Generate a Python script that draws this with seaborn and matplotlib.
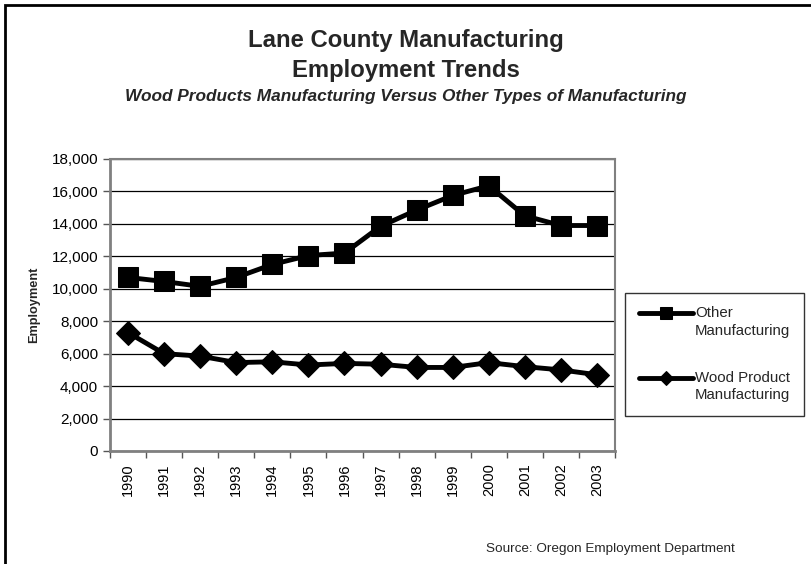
import matplotlib
matplotlib.use("Agg")
import matplotlib.pyplot as plt
import seaborn as sns
import pandas as pd
from matplotlib.patches import Rectangle
from matplotlib.ticker import FuncFormatter, FixedLocator
from matplotlib.legend_handler import HandlerLine2D

years = ["1990", "1991", "1992", "1993", "1994", "1995", "1996",
         "1997", "1998", "1999", "2000", "2001", "2002", "2003"]
other_mfg = [10700, 10450, 10150, 10700, 11500, 12050, 12200,
             13850, 14850, 15750, 16350, 14500, 13900, 13900]
wood_mfg = [7300, 6000, 5850, 5450, 5500, 5300, 5400,
            5350, 5150, 5150, 5450, 5200, 5000, 4700]
series_names = ["Other\nManufacturing", "Wood Product\nManufacturing"]
y_ticks = [0, 2000, 4000, 6000, 8000, 10000, 12000, 14000, 16000, 18000]


class FirstLineHandler(HandlerLine2D):
    """Place the legend line at the level of the first text line."""
    def create_artists(self, legend, orig_handle, xdescent, ydescent,
                       width, height, fontsize, trans):
        return super().create_artists(legend, orig_handle, xdescent,
                                      ydescent - 13.0, width, height,
                                      fontsize, trans)


sns.set_theme(style="white")
plt.rcParams['font.family'] = ['Liberation Sans', 'DejaVu Sans']

fig = plt.figure(figsize=(8.11, 5.64), dpi=100)
ax = fig.add_axes([110/811, 1-451/564, (615-110)/811, (451-159)/564])

df = pd.DataFrame({"Year": years, "other": other_mfg, "wood": wood_mfg})
sns.lineplot(data=df, x="Year", y="other", ax=ax, color="black", lw=3.5,
             marker="s", markersize=14, markeredgecolor="black",
             label=series_names[0], sort=False)
sns.lineplot(data=df, x="Year", y="wood", ax=ax, color="black", lw=3.5,
             marker="D", markersize=12, markeredgecolor="black",
             label=series_names[1], sort=False)

ax.set_ylim(0, 18000)
ax.set_xlim(-0.5, len(years) - 0.5)
ax.set_yticks(y_ticks)
ax.yaxis.set_major_formatter(FuncFormatter(lambda v, p: f"{int(v):,}"))
ax.grid(axis="y", color="black", lw=0.9)
ax.grid(axis="x", visible=False)
ax.set_xticks(range(len(years)))
ax.set_xticklabels(years, rotation=90)
ax.xaxis.set_minor_locator(FixedLocator([i - 0.5 for i in range(len(years) + 1)]))
ax.tick_params(axis="x", which="major", length=0, labelsize=10.5, pad=9, colors="black")
ax.tick_params(axis="x", which="minor", length=5, width=1, color="#555555", direction="out", bottom=True)
ax.tick_params(axis="y", length=5, width=1, color="#555555", direction="out", left=True, labelsize=11, colors="black")
ax.set_xlabel("")
ax.set_ylabel("Employment", fontsize=9.2, fontweight="bold", labelpad=8)
for s in ax.spines.values():
    s.set_color("#808080")
    s.set_linewidth(1.5)
ax.spines["left"].set_linewidth(2)
ax.spines["bottom"].set_linewidth(2)

ax.get_legend().remove()
h, l = ax.get_legend_handles_labels()
hm = {hh: FirstLineHandler() for hh in h}
leg = fig.legend(h, l, loc="upper left", bbox_to_anchor=(625/811, 1-293/564),
                 frameon=True, fancybox=False, fontsize=10.8, handlelength=3.6,
                 labelspacing=2.2, markerscale=0.6, handletextpad=0.15,
                 borderpad=0.9, borderaxespad=0, handler_map=hm)
leg.get_frame().set_edgecolor("black")
leg.get_frame().set_linewidth(1)
for t in leg.get_texts():
    t.set_linespacing(1.3)

fig.text(0.5, 1-47/564, "Lane County Manufacturing", ha="center", va="baseline",
         fontsize=17.2, fontweight="bold")
fig.text(0.5, 1-77/564, "Employment Trends", ha="center", va="baseline",
         fontsize=17.2, fontweight="bold")
fig.text(0.5, 1-100.5/564, "Wood Products Manufacturing Versus Other Types of Manufacturing",
         ha="center", va="baseline", fontsize=12.4, fontweight="bold", fontstyle="italic")
fig.text(610/811, 1-549/564, "Source: Oregon Employment Department", ha="center",
         va="center", fontsize=9.7)

fig.patches.append(Rectangle((5/811, -0.1), 1.2, 1 - 5/564 + 0.1, transform=fig.transFigure,
                             fill=False, edgecolor="black", lw=2, figure=fig))

fig.savefig("out.png", dpi=100)
